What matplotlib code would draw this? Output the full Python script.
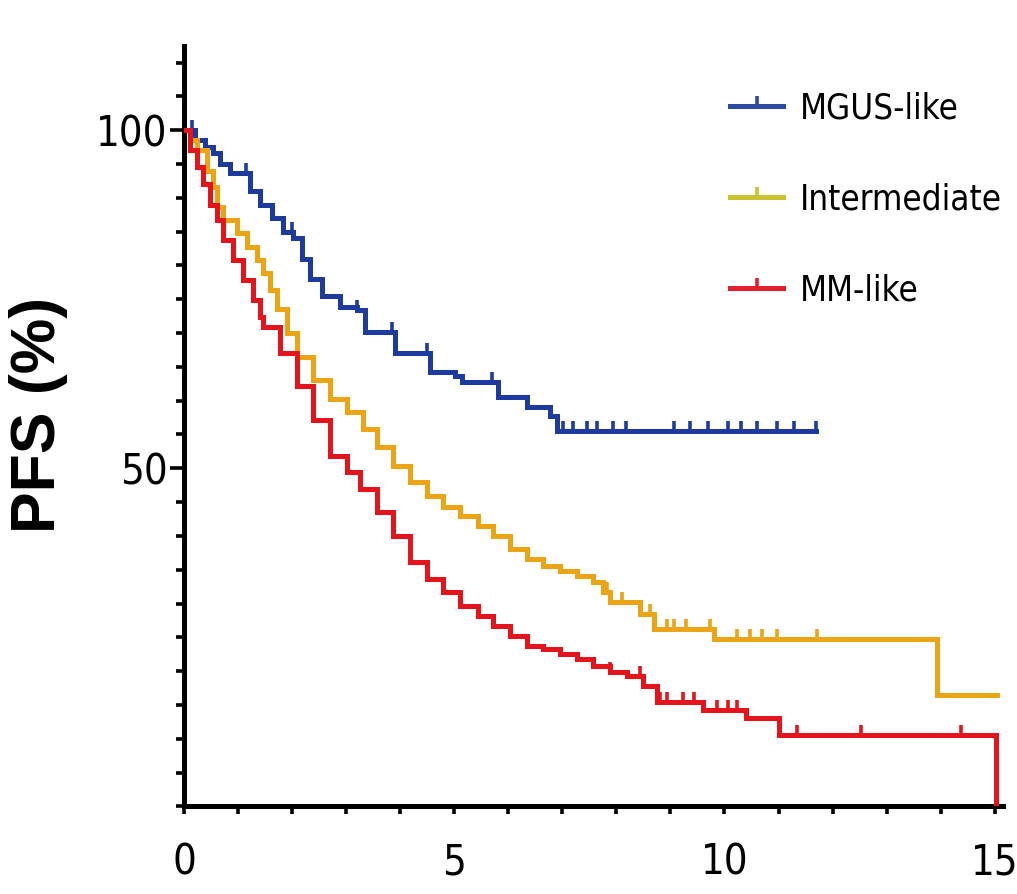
import numpy as np
import matplotlib
matplotlib.use("Agg")
import matplotlib.pyplot as plt
from matplotlib.lines import Line2D
from matplotlib.path import Path
from matplotlib import font_manager as fm

# ---------------- data ----------------
series_names = ["MGUS-like", "Intermediate", "MM-like"]

mgus_t = [0, 0.2, 0.39, 0.54, 0.67, 0.85, 1.22, 1.41, 1.63, 1.83, 2.02, 2.19, 2.33,
          2.56, 2.89, 3.2, 3.35, 3.9, 4.56, 5.02, 5.15, 5.8, 6.35, 6.78, 6.9, 11.7]
mgus_s = [100, 98.5, 97.5, 96.6, 95, 93.6, 91, 89, 87, 85, 84, 81, 78,
          75.4, 73.9, 73.4, 70.2, 67, 64.2, 63.6, 62.8, 60.6, 59.1, 57.7, 55.5, 55.5]
mgus_cens = [0.15, 1.15, 2.0, 3.2, 3.85, 4.5, 5.7, 7.02, 7.2, 7.45, 7.65, 7.94, 8.17,
             9.06, 9.37, 9.69, 10.06, 10.3, 10.6, 10.98, 11.28, 11.69]

inter_t = [0, 0.11, 0.24, 0.43, 0.54, 0.61, 0.72, 0.98, 1.17, 1.35, 1.46, 1.59, 1.72,
           1.91, 2.09, 2.39, 2.7, 3.02, 3.31, 3.57, 3.87, 4.19, 4.5, 4.8, 5.11, 5.43,
           5.72, 6.04, 6.35, 6.65, 6.96, 7.28, 7.57, 7.76, 7.89, 8.44, 8.69, 9.8,
           13.94, 15.05]
inter_s = [100, 98.5, 97, 94, 91.6, 88.6, 86.7, 84.8, 82.7, 80.8, 78.9, 76.4, 73.5,
           70, 66.5, 63.1, 60.2, 58.3, 55.8, 53.2, 50.3, 47.9, 45.9, 44.2, 42.9, 41.4,
           40, 38, 36.6, 35.5, 34.8, 34.1, 33.2, 31.7, 30.2, 28.5, 26.3, 24.8,
           16.4, 16.4]
inter_cens = [7.83, 8.1, 8.44, 8.63, 8.94, 9.06, 9.28, 9.74, 10.24, 10.48, 10.7,
              10.98, 11.72]

mm_t = [0, 0.11, 0.24, 0.35, 0.48, 0.61, 0.72, 0.91, 1.09, 1.28, 1.41, 1.46, 1.78,
        2.09, 2.39, 2.7, 3.02, 3.26, 3.57, 3.87, 4.19, 4.5, 4.8, 5.11, 5.43, 5.72,
        6.04, 6.35, 6.65, 6.96, 7.28, 7.57, 7.89, 8.2, 8.5, 8.76, 9.6, 10.39, 11.0,
        15.02, 15.02]
mm_s = [100, 97, 94.5, 92, 89, 86.7, 83.8, 80.8, 77.9, 74.9, 72.4, 70.9, 67.1,
        62.1, 57.2, 51.8, 49.4, 46.9, 43.5, 40, 36.1, 33.6, 31.7, 29.6, 28.2, 26.7,
        25.2, 23.7, 23.3, 22.5, 21.8, 20.8, 19.9, 19.3, 17.8, 15.5, 14.3, 13, 10.5,
        10.5, 0]
mm_cens = [7.89, 8.44, 8.8, 8.94, 9.24, 9.43, 9.87, 10.06, 10.24, 11.35, 12.52, 14.37]

x_ticks = [0, 5, 10, 15]
y_ticks = [50, 100]
y_label = "PFS (%)"

line_colors = ["#1d3a9e", "#eba414", "#e4141c"]
legend_colors = ["#2b4aa0", "#cbc232", "#e0202c"]

# ---------------- fonts ----------------
cands = [f for f in fm.fontManager.ttflist
         if ("Narrow" in f.name or "Condensed" in f.name or "condensed" in str(f.stretch))
         and f.style == "normal" and f.weight in (400, "normal", "regular")]
if cands:
    narrow_prop = dict(fname=cands[0].fname)
else:
    narrow_prop = dict(family="Liberation Sans")

fig = plt.figure(figsize=(10.17, 8.94), dpi=100)
ax = fig.add_axes([0.181, 0.098, 0.805, 0.851])

tick_path = Path([(0, 0), (0, 1)])

def step_value(ts, ss, x):
    idx = np.searchsorted(np.asarray(ts), x, side="right") - 1
    return np.asarray(ss)[idx]

curves = [(mgus_t, mgus_s, mgus_cens), (inter_t, inter_s, inter_cens), (mm_t, mm_s, mm_cens)]
for (t, s, c), col in zip(curves, line_colors):
    ax.step(t, s, where="post", color=col, lw=3.6, solid_joinstyle="miter", zorder=3)
    cy = [step_value(t, s, x) for x in c]
    ax.plot(c, cy, ls="none", marker=tick_path, markersize=15, markeredgewidth=2.6,
            color=col, zorder=3)

ax.set_xlim(0, 15.15)
ax.set_ylim(0, 112.5)

for sp in ["top", "right"]:
    ax.spines[sp].set_visible(False)
for sp in ["left", "bottom"]:
    ax.spines[sp].set_linewidth(3.6)

tick_fp = fm.FontProperties(size=30, **narrow_prop)
leg_fp = fm.FontProperties(size=25, **narrow_prop)

ax.set_xticks(x_ticks)
ax.set_xticks(np.arange(0, 16, 1), minor=True)
ax.set_yticks(y_ticks)
ax.set_yticks(np.arange(0, 115, 5), minor=True)
ax.tick_params(axis="x", which="both", direction="out", length=6, width=2.6, pad=19)
ax.tick_params(axis="y", which="major", direction="out", length=10, width=2.6, pad=2)
ax.tick_params(axis="y", which="minor", direction="out", length=6, width=2.6)
for lab in ax.get_xticklabels() + ax.get_yticklabels():
    lab.set_fontproperties(tick_fp)

ax.set_ylabel(y_label, fontsize=45, fontweight="bold", family="Liberation Sans")
ax.yaxis.set_label_coords(-0.142, 0.514)

handles = [Line2D([0], [0], color=c, lw=3.6, marker=tick_path, markersize=15,
                  markeredgewidth=2.6) for c in legend_colors]
leg = ax.legend(handles, series_names, loc="upper left", bbox_to_anchor=(0.667, 0.94),
                frameon=False, borderpad=0, borderaxespad=0,
                handlelength=1.53, handletextpad=0.49, labelspacing=1.64,
                prop=leg_fp)

fig.savefig("out.png", dpi=100)
